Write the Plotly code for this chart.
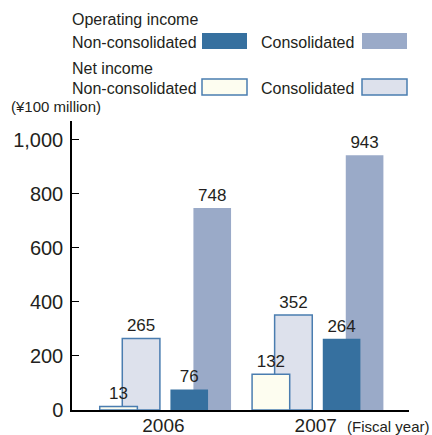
import plotly.graph_objects as go

years = ["2006", "2007"]
net_nonconsol = [13, 132]
net_consol = [265, 352]
op_nonconsol = [76, 264]
op_consol = [748, 943]
y_ticks = [0, 200, 400, 600, 800, 1000]

FONT = "Liberation Sans, Arial, Helvetica, sans-serif"
TXT = "#231f20"
BORDER = "#4a7db0"
DARK = "#36709f"
MID = "#9aaac8"
PALE = "#dde1ec"
CREAM = "#fdfdf0"

# plot area in pixels
L, R, T, B = 72, 409, 121, 410
W, H = 432, 435

def px(x):
    return (x - L) / (R - L)

def py(y):
    return (B - y) / (B - T)

bw = 0.247
fig = go.Figure()

def bar(vals, fill, line_w, offset, name):
    fig.add_trace(go.Bar(
        x=years, y=vals, name=name, width=bw, offset=offset,
        marker=dict(color=fill, line=dict(color=BORDER if line_w else fill, width=line_w)),
        text=[str(v) for v in vals], textposition="outside",
        textfont=dict(family=FONT, size=17, color=TXT),
        cliponaxis=False, showlegend=False,
    ))

bar(net_consol, PALE, 1.5, -0.27, "Net income consolidated")
bar(net_nonconsol, CREAM, 1.5, -0.418, "Net income non-consolidated")
bar(op_consol, MID, 0, 0.197, "Operating income consolidated")
bar(op_nonconsol, DARK, 0, 0.046, "Operating income non-consolidated")

shapes = []
ann = []

def text(x, y, s, size=16, anchor="left"):
    ann.append(dict(x=px(x), y=py(y), xref="paper", yref="paper", text=s, showarrow=False,
                    xanchor=anchor, yanchor="middle", font=dict(family=FONT, size=size, color=TXT)))

def swatch(x0, x1, y0, y1, fill, line):
    shapes.append(dict(type="rect", xref="paper", yref="paper",
                       x0=px(x0), x1=px(x1), y0=py(y1), y1=py(y0),
                       fillcolor=fill, line=dict(color=line, width=1.5 if line != fill else 0)))

text(70, 20, "Operating income")
text(70, 42, "Non-consolidated")
text(259, 42, "Consolidated")
swatch(202, 247, 33, 49, DARK, DARK)
swatch(362, 407, 33, 49, MID, MID)
text(70, 69, "Net income")
text(70, 88, "Non-consolidated")
text(259, 88, "Consolidated")
swatch(202, 247, 79, 95, CREAM, BORDER)
swatch(362, 407, 79, 95, PALE, BORDER)
text(9, 106, "(¥100 million)", size=15)
text(345, 426, "(Fiscal year)", size=15)

fig.update_layout(
    width=W, height=H, barmode="overlay",
    margin=dict(l=L, r=W - R, t=T, b=H - B, autoexpand=False),
    plot_bgcolor="white", paper_bgcolor="white",
    shapes=shapes, annotations=ann,
    xaxis=dict(type="category", range=[-0.6, 1.612], showline=True, linecolor="black", linewidth=1.5,
               ticks="", showgrid=False, automargin=False, ticklabelstandoff=-3,
               tickfont=dict(family=FONT, size=19, color=TXT)),
    yaxis=dict(range=[0, 1070], tickvals=y_ticks, tickformat=",", showline=True, linecolor="black",
               linewidth=1.5, ticks="inside", ticklen=7, tickcolor="black", showgrid=False, zeroline=False,
               automargin=False, ticklabelstandoff=3, tickfont=dict(family=FONT, size=20, color=TXT)),
)

fig.write_html("out.html", config={"displayModeBar": False},
               post_script="document.body.style.margin='0';")
